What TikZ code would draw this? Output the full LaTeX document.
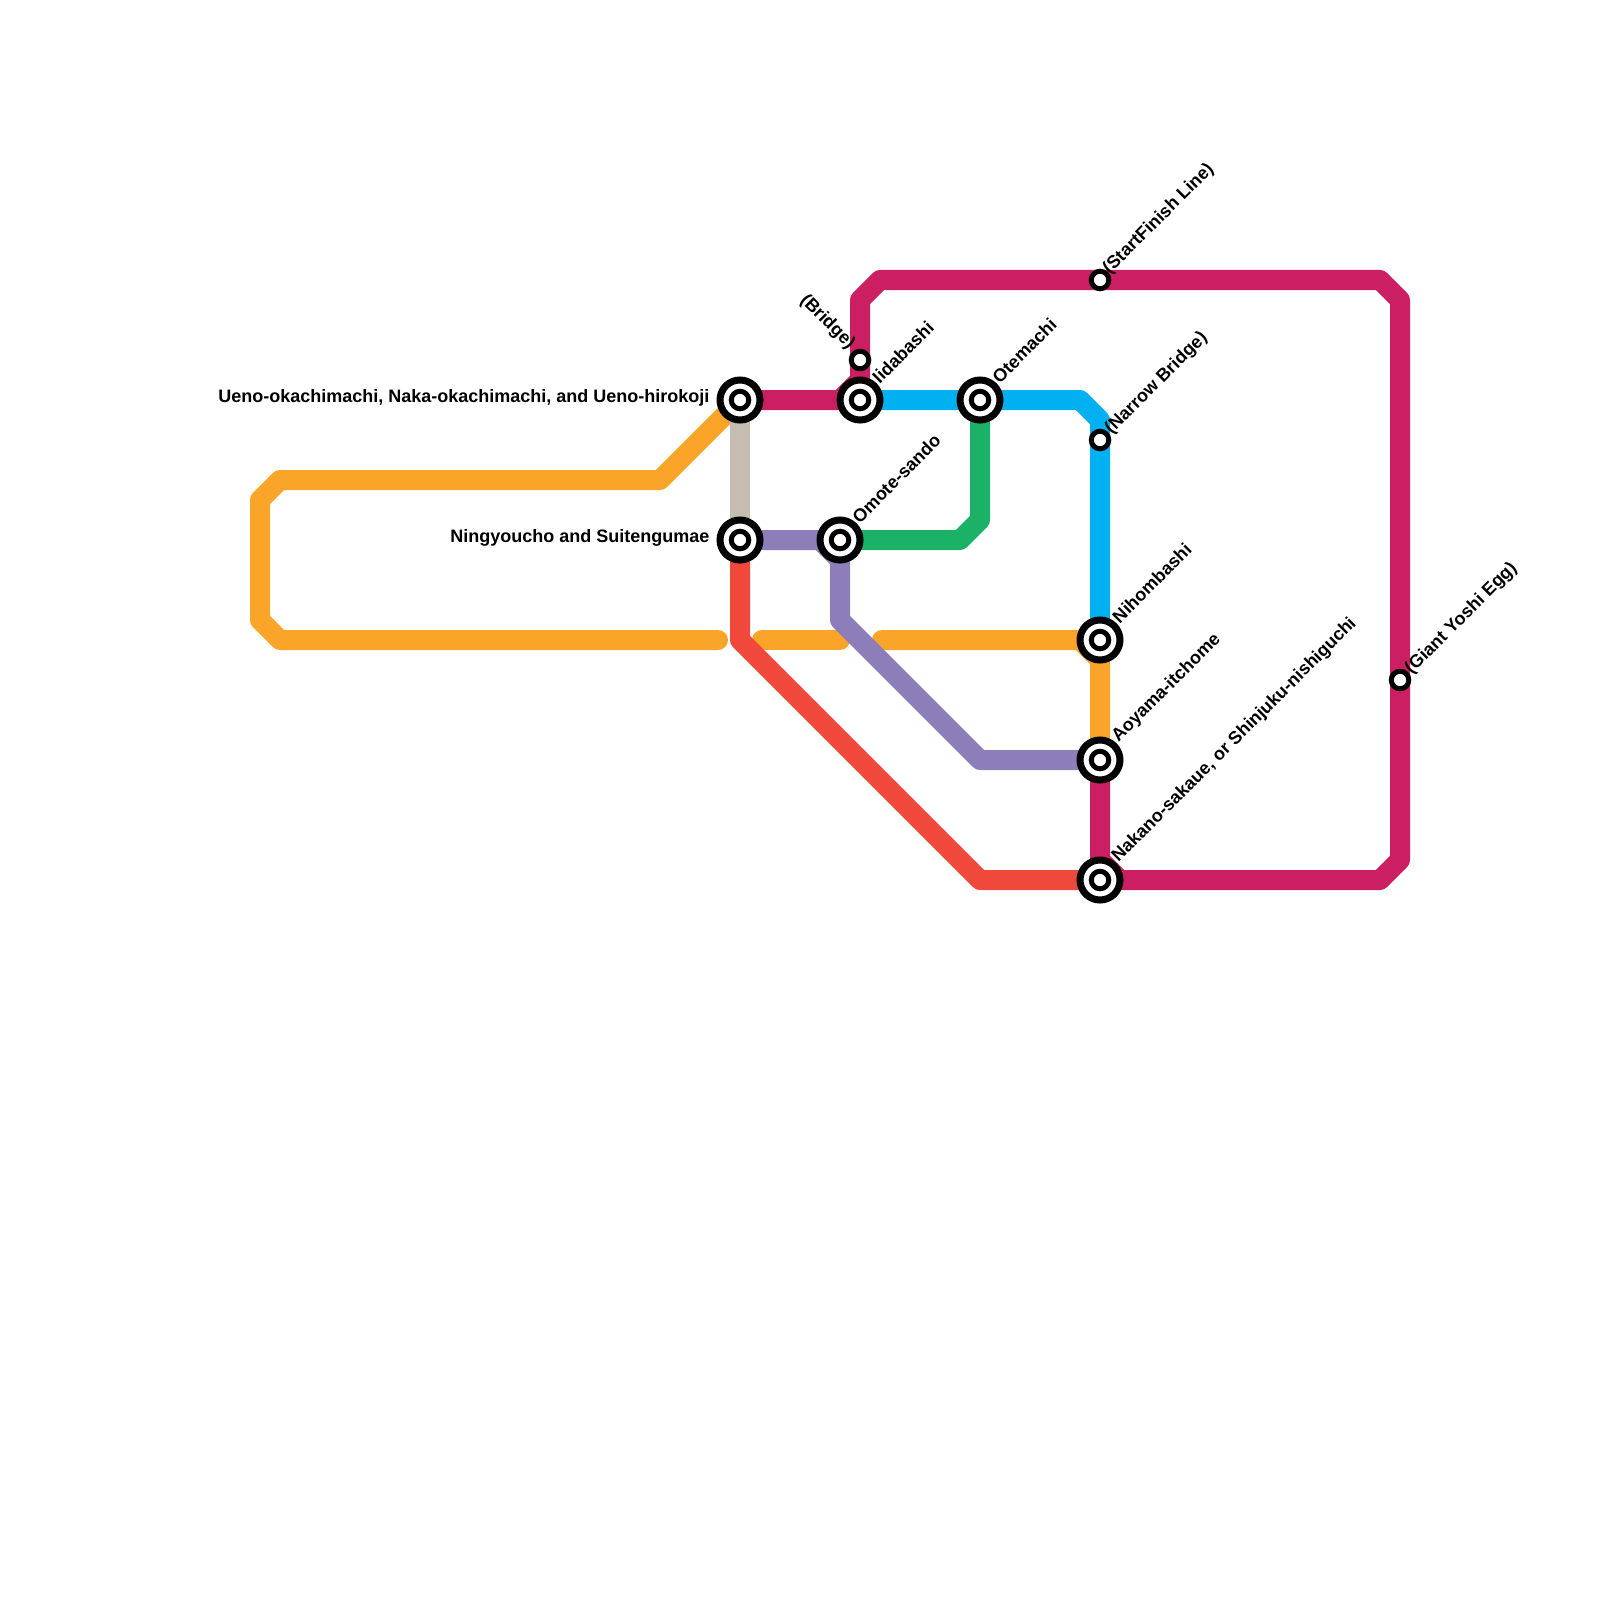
\documentclass[tikz,border=0pt]{standalone}
\usepackage{fontspec}
\setmainfont{Liberation Sans}
\usetikzlibrary{backgrounds}
\definecolor{lmag}{HTML}{CC1E63}
\definecolor{lorg}{HTML}{FAA429}
\definecolor{lblu}{HTML}{00B0F0}
\definecolor{lgrn}{HTML}{1BB167}
\definecolor{ltan}{HTML}{C4BDB0}
\definecolor{lpur}{HTML}{8D7DB9}
\definecolor{lred}{HTML}{F1483C}
\tikzset{
  mline/.style={line width=2.5mm,line join=round},
  stn/.style={draw,circle,fill=white,inner sep=0pt,outer sep=0pt,line width=.625mm,minimum size=2.19mm},
  xstn/.style={draw,circle,fill=white,inner sep=0pt,outer sep=0pt,line width=.875mm,minimum size=5mm,
    path picture={\draw[line width=.625mm] (path picture bounding box.center) circle (1.094mm);}},
  lbl/.style={inner sep=0pt,font=\fontsize{6.4}{7}\bfseries\selectfont},
  llbl/.style={lbl,rotate=45,anchor=west}
}
\begin{document}
\begin{tikzpicture}[x=0.0125cm,y=-0.0125cm]
  \useasboundingbox (0,0) rectangle (1600,1600);
  \node[xstn] (S0) at (740,400) {};
  \node[xstn] (S1) at (860,400) {};
  \node[xstn] (S2) at (980,400) {};
  \node[xstn] (S3) at (740,540) {};
  \node[xstn] (S4) at (840,540) {};
  \node[xstn] (S5) at (1100,640) {};
  \node[xstn] (S6) at (1100,760) {};
  \node[xstn] (S7) at (1100,880) {};
  \node[stn] (S8) at (860,360) {};
  \node[stn] (S9) at (1100,280) {};
  \node[stn] (S10) at (1100,440) {};
  \node[stn] (S11) at (1400,680) {};
  \node[lbl,anchor=east] (L0) at (710,398) {Ueno-okachimachi, Naka-okachimachi, and Ueno-hirokoji};
  \node[lbl,anchor=east] (L3) at (710,538) {Ningyoucho and Suitengumae};
  \node[llbl] (L1) at (875,380) {Iidabashi};
  \node[llbl] (L2) at (995,380) {Otemachi};
  \node[llbl] (L4) at (855,520) {Omote-sando};
  \node[llbl] (L5) at (1115,620) {Nihombashi};
  \node[llbl] (L6) at (1115,740) {Aoyama-itchome};
  \node[llbl] (L7) at (1115,860) {Nakano-sakaue, or Shinjuku-nishiguchi};
  \node[lbl,rotate=-45,anchor=east] (L8) at (852,347) {(Bridge)};
  \node[llbl] (L9) at (1106,272) {(StartFinish Line)};
  \node[llbl] (L10) at (1108,432) {(Narrow Bridge)};
  \node[llbl] (L11) at (1408,672) {(Giant Yoshi Egg)};
  \coordinate (B0) at (660,480);
  \coordinate (B1) at (280,480);
  \coordinate (B2) at (260,500);
  \coordinate (B3) at (260,620);
  \coordinate (B4) at (280,640);
  \coordinate (B5) at (718,640);
  \coordinate (B6) at (762,640);
  \coordinate (B7) at (840,640);
  \coordinate (B8) at (882,640);
  \coordinate (B9) at (1080,640);
  \coordinate (B10) at (1100,660);
  \coordinate (B11) at (840,400);
  \coordinate (B12) at (860,380);
  \coordinate (B13) at (860,300);
  \coordinate (B14) at (880,280);
  \coordinate (B15) at (1380,280);
  \coordinate (B16) at (1400,300);
  \coordinate (B17) at (1400,860);
  \coordinate (B18) at (1380,880);
  \coordinate (B19) at (1120,880);
  \coordinate (B20) at (1100,860);
  \coordinate (B21) at (1080,400);
  \coordinate (B22) at (1100,420);
  \coordinate (B23) at (960,540);
  \coordinate (B24) at (980,520);
  \coordinate (B25) at (820,540);
  \coordinate (B26) at (840,560);
  \coordinate (B27) at (840,620);
  \coordinate (B28) at (980,760);
  \coordinate (B29) at (740,640);
  \coordinate (B30) at (980,880);
  \begin{pgfonlayer}{background}
    \draw[mline,lorg,line cap=round] (S0.center) -- (B0) -- (B1) -- (B2) -- (B3) -- (B4) -- (B5);
    \draw[mline,lorg,line cap=round] (B6) -- (B7);
    \draw[mline,lorg,line cap=round] (B8) -- (B9) -- (B10) -- (S6.center);
    \draw[mline,ltan] (S0.center) -- (S3.center);
    \draw[mline,lmag] (S0.center) -- (B11) -- (B12) -- (B13) -- (B14) -- (B15) -- (B16) -- (B17) -- (B18) -- (B19) -- (B20) -- (S6.center);
    \draw[mline,lblu] (S1.center) -- (B21) -- (B22) -- (S5.center);
    \draw[mline,lgrn] (S4.center) -- (B23) -- (B24) -- (S2.center);
    \draw[mline,lpur] (S3.center) -- (B25) -- (B26) -- (B27) -- (B28) -- (S6.center);
    \draw[mline,lred] (S3.center) -- (B29) -- (B30) -- (S7.center);
  \end{pgfonlayer}
\end{tikzpicture}
\end{document}
